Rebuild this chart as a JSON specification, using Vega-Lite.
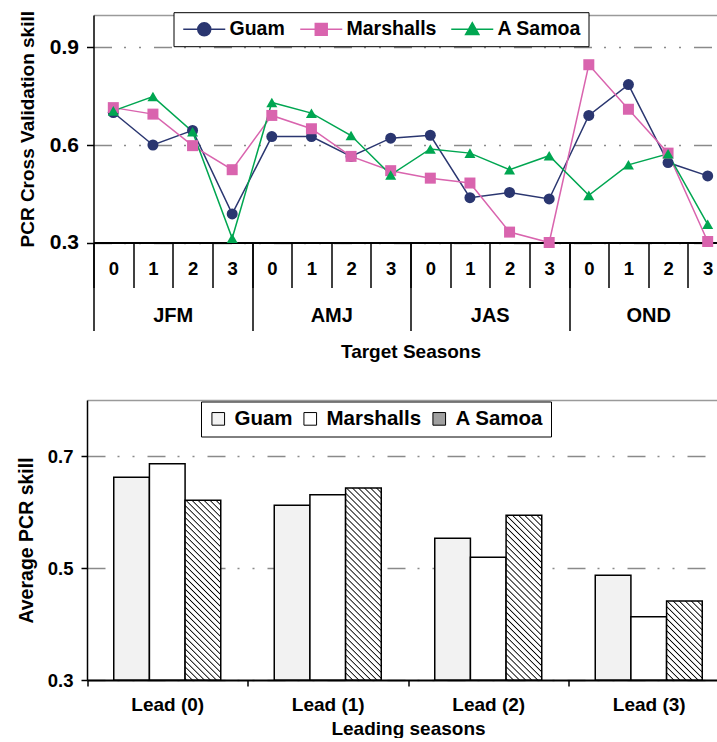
{
"$schema": "https://vega.github.io/schema/vega-lite/v6.json",
"padding": {"left": 15.5, "top": 10, "right": -15.5, "bottom": 0},
"background": "white",
"spacing": 38,
"resolve": {"legend": {"color": "independent", "fill": "independent", "shape": "independent"}},
"config": {
  "font": "Liberation Sans",
  "view": {"stroke": null},
  "axis": {"labelFont": "Liberation Sans", "titleFont": "Liberation Sans", "labelFontWeight": "bold", "titleFontWeight": "bold", "labelColor": "#000", "titleColor": "#000", "tickColor": "#000", "domainColor": "#000", "tickWidth": 1.5, "domainWidth": 1.5, "gridColor": "#8a8a8a", "gridWidth": 1.5, "gridDash": [18, 12, 2, 13, 2, 13]},
  "legend": {"labelFont": "Liberation Sans", "labelFontWeight": "bold", "labelColor": "#000"}
},
"vconcat": [
{
  "width": 634, "height": 227.5,
  "data": {"values": [
    {"site": "Guam", "season": "JFM", "key": "JFM0", "value": 0.70},
    {"site": "Guam", "season": "JFM", "key": "JFM1", "value": 0.60},
    {"site": "Guam", "season": "JFM", "key": "JFM2", "value": 0.645},
    {"site": "Guam", "season": "JFM", "key": "JFM3", "value": 0.388},
    {"site": "Guam", "season": "AMJ", "key": "AMJ0", "value": 0.626},
    {"site": "Guam", "season": "AMJ", "key": "AMJ1", "value": 0.626},
    {"site": "Guam", "season": "AMJ", "key": "AMJ2", "value": 0.565},
    {"site": "Guam", "season": "AMJ", "key": "AMJ3", "value": 0.621},
    {"site": "Guam", "season": "JAS", "key": "JAS0", "value": 0.630},
    {"site": "Guam", "season": "JAS", "key": "JAS1", "value": 0.438},
    {"site": "Guam", "season": "JAS", "key": "JAS2", "value": 0.454},
    {"site": "Guam", "season": "JAS", "key": "JAS3", "value": 0.434},
    {"site": "Guam", "season": "OND", "key": "OND0", "value": 0.691},
    {"site": "Guam", "season": "OND", "key": "OND1", "value": 0.786},
    {"site": "Guam", "season": "OND", "key": "OND2", "value": 0.546},
    {"site": "Guam", "season": "OND", "key": "OND3", "value": 0.505},
    {"site": "Marshalls", "season": "JFM", "key": "JFM0", "value": 0.715},
    {"site": "Marshalls", "season": "JFM", "key": "JFM1", "value": 0.695},
    {"site": "Marshalls", "season": "JFM", "key": "JFM2", "value": 0.598},
    {"site": "Marshalls", "season": "JFM", "key": "JFM3", "value": 0.524},
    {"site": "Marshalls", "season": "AMJ", "key": "AMJ0", "value": 0.691},
    {"site": "Marshalls", "season": "AMJ", "key": "AMJ1", "value": 0.650},
    {"site": "Marshalls", "season": "AMJ", "key": "AMJ2", "value": 0.565},
    {"site": "Marshalls", "season": "AMJ", "key": "AMJ3", "value": 0.521},
    {"site": "Marshalls", "season": "JAS", "key": "JAS0", "value": 0.498},
    {"site": "Marshalls", "season": "JAS", "key": "JAS1", "value": 0.483},
    {"site": "Marshalls", "season": "JAS", "key": "JAS2", "value": 0.332},
    {"site": "Marshalls", "season": "JAS", "key": "JAS3", "value": 0.300},
    {"site": "Marshalls", "season": "OND", "key": "OND0", "value": 0.847},
    {"site": "Marshalls", "season": "OND", "key": "OND1", "value": 0.710},
    {"site": "Marshalls", "season": "OND", "key": "OND2", "value": 0.575},
    {"site": "Marshalls", "season": "OND", "key": "OND3", "value": 0.303},
    {"site": "A Samoa", "season": "JFM", "key": "JFM0", "value": 0.705},
    {"site": "A Samoa", "season": "JFM", "key": "JFM1", "value": 0.749},
    {"site": "A Samoa", "season": "JFM", "key": "JFM2", "value": 0.641},
    {"site": "A Samoa", "season": "JFM", "key": "JFM3", "value": 0.313},
    {"site": "A Samoa", "season": "AMJ", "key": "AMJ0", "value": 0.731},
    {"site": "A Samoa", "season": "AMJ", "key": "AMJ1", "value": 0.698},
    {"site": "A Samoa", "season": "AMJ", "key": "AMJ2", "value": 0.629},
    {"site": "A Samoa", "season": "AMJ", "key": "AMJ3", "value": 0.508},
    {"site": "A Samoa", "season": "JAS", "key": "JAS0", "value": 0.588},
    {"site": "A Samoa", "season": "JAS", "key": "JAS1", "value": 0.575},
    {"site": "A Samoa", "season": "JAS", "key": "JAS2", "value": 0.524},
    {"site": "A Samoa", "season": "JAS", "key": "JAS3", "value": 0.567},
    {"site": "A Samoa", "season": "OND", "key": "OND0", "value": 0.445},
    {"site": "A Samoa", "season": "OND", "key": "OND1", "value": 0.539},
    {"site": "A Samoa", "season": "OND", "key": "OND2", "value": 0.573},
    {"site": "A Samoa", "season": "OND", "key": "OND3", "value": 0.356}
  ]},
  "layer": [
    {
      "layer": [
        {
          "mark": {"type": "line", "strokeWidth": 1.5},
          "encoding": {
            "x": {"field": "key", "type": "nominal", "sort": null, "scale": {"paddingInner": 0, "paddingOuter": 0},
                  "axis": {"orient": "bottom", "title": null, "labelExpr": "slice(datum.label, 3)", "labelAngle": 0, "tickBand": "extent", "tickSize": 45, "labelFontSize": 18.5, "labelPadding": -28, "domainWidth": 2}},
            "y": {"field": "value", "type": "quantitative", "scale": {"domain": [0.3, 1.0], "nice": false, "zero": false},
                  "axis": {"values": [0.3, 0.6, 0.9, 1.0], "format": ".1f", "title": "PCR Cross Validation skill", "titleFontSize": 19, "labelFontSize": 21, "tickSize": 7, "labelPadding": 8, "titlePadding": 12, "grid": true,
                           "labelExpr": "datum.value > 0.95 ? '' : datum.label",
                           "tickOpacity": {"condition": {"test": "datum.value > 0.95", "value": 0}, "value": 1},
                           "gridDash": {"condition": {"test": "datum.value > 0.95", "value": []}, "value": [18, 12, 2, 13, 2, 13]},
                           "gridColor": {"condition": {"test": "datum.value > 0.95", "value": "#9a9a9a"}, "value": "#8a8a8a"}}},
            "color": {"field": "site", "type": "nominal",
                      "scale": {"domain": ["Guam", "Marshalls", "A Samoa"], "range": ["#2a3670", "#d964ae", "#00a651"]},
                      "legend": {"orient": "none", "legendX": 80, "legendY": -2.8, "direction": "horizontal", "title": null,
                                 "strokeColor": "#000", "fillColor": "#fff", "padding": 7,
                                 "labelFontSize": 19.5, "symbolSize": 196, "symbolOffset": 14, "labelOffset": 15.5, "columnPadding": 11, "symbolStrokeWidth": 1.5}}
          }
        },
        {
          "mark": {"type": "point", "filled": true, "opacity": 1, "size": 121},
          "encoding": {
            "x": {"field": "key", "type": "nominal", "sort": null},
            "y": {"field": "value", "type": "quantitative"},
            "color": {"field": "site", "type": "nominal"},
            "shape": {"field": "site", "type": "nominal",
                      "condition": [
                        {"test": "datum.site === 'Guam'", "value": "circle"},
                        {"test": "datum.site === 'Marshalls'", "value": "square"},
                        {"test": "datum.site === 'A Samoa'", "value": "triangle-up"}
                      ],
                      "scale": {"domain": ["Guam", "Marshalls", "A Samoa"], "range": [
                        "M-3,0H3M0.93,0A0.93,0.93,0,1,1,-0.93,0A0.93,0.93,0,1,1,0.93,0Z",
                        "M-3,0H3M-0.85,-0.85H0.85V0.85H-0.85Z",
                        "M-3,0H3M0,-0.95L0.95,0.75H-0.95Z"]},
                      "legend": {"orient": "none", "legendX": 80, "legendY": -2.8, "direction": "horizontal", "title": null,
                                 "strokeColor": "#000", "fillColor": "#fff", "padding": 7,
                                 "labelFontSize": 19.5, "symbolSize": 196, "symbolOffset": 14, "labelOffset": 15.5, "columnPadding": 11, "symbolStrokeWidth": 1.5}}
          }
        }
      ]
    },
    {
      "mark": {"type": "tick", "opacity": 0},
      "encoding": {
        "x": {"field": "season", "type": "nominal", "sort": null, "scale": {"paddingInner": 0, "paddingOuter": 0},
              "axis": {"orient": "bottom", "title": "Target Seasons", "titleFontSize": 19, "titlePadding": 11, "labelAngle": 0, "tickBand": "extent", "tickSize": 88, "labelFontSize": 20, "labelPadding": -25, "domain": false}},
        "y": {"field": "value", "type": "quantitative"}
      }
    }
  ],
  "resolve": {"scale": {"x": "independent"}, "axis": {"x": "independent"}}
},
{
  "width": 636, "height": 280,
  "data": {"values": [
    {"lead": "Lead (0)", "site": "Guam", "value": 0.662},
    {"lead": "Lead (0)", "site": "Marshalls", "value": 0.686},
    {"lead": "Lead (0)", "site": "A Samoa", "value": 0.621},
    {"lead": "Lead (1)", "site": "Guam", "value": 0.612},
    {"lead": "Lead (1)", "site": "Marshalls", "value": 0.631},
    {"lead": "Lead (1)", "site": "A Samoa", "value": 0.643},
    {"lead": "Lead (2)", "site": "Guam", "value": 0.553},
    {"lead": "Lead (2)", "site": "Marshalls", "value": 0.519},
    {"lead": "Lead (2)", "site": "A Samoa", "value": 0.594},
    {"lead": "Lead (3)", "site": "Guam", "value": 0.487},
    {"lead": "Lead (3)", "site": "Marshalls", "value": 0.413},
    {"lead": "Lead (3)", "site": "A Samoa", "value": 0.441}
  ]},
  "mark": {"type": "bar", "stroke": "#000", "strokeWidth": 1.5},
  "encoding": {
    "x": {"field": "lead", "type": "nominal", "sort": null, "scale": {"paddingInner": 0, "paddingOuter": 0, "range": [-6.5, 635.5]},
          "axis": {"title": "Leading seasons", "labelAngle": 0, "tickBand": "extent", "tickSize": 6, "labelFontSize": 19, "labelPadding": 9, "titleFontSize": 19, "titlePadding": 5, "domainWidth": 2}},
    "xOffset": {"field": "site", "type": "nominal", "sort": ["Guam", "Marshalls", "A Samoa"], "scale": {"paddingInner": 0, "paddingOuter": 0.75}},
    "y": {"field": "value", "type": "quantitative", "scale": {"domain": [0.3, 0.8], "nice": false, "zero": false},
          "axis": {"values": [0.3, 0.5, 0.7, 0.8], "format": ".1f", "offset": 6.5, "title": "Average PCR skill", "titleFontSize": 19.5, "labelFontSize": 18.5, "tickSize": 6, "labelPadding": 8, "titlePadding": 11, "grid": true,
                   "labelExpr": "datum.value > 0.75 ? '' : datum.label",
                   "tickOpacity": {"condition": {"test": "datum.value > 0.75", "value": 0}, "value": 1},
                   "gridDash": {"condition": {"test": "datum.value > 0.75", "value": []}, "value": [18, 12, 2, 13, 2, 13]},
                   "gridColor": {"condition": {"test": "datum.value > 0.75", "value": "#9a9a9a"}, "value": "#8a8a8a"}}},
    "y2": {"datum": 0.3},
    "fill": {
      "condition": [
        {"test": "datum.site === 'A Samoa' && datum.lead === 'Lead (0)'",
         "value": {"gradient": "linear", "x1": 0, "y1": 1, "x2": 0.2276, "y2": -0.1525, "stops": [
{"offset":0,"color":"#fff"},{"offset":0.0056,"color":"#000"},{"offset":0.0111,"color":"#fff"},
{"offset":0.0278,"color":"#fff"},{"offset":0.0333,"color":"#000"},{"offset":0.0389,"color":"#fff"},
{"offset":0.0556,"color":"#fff"},{"offset":0.0611,"color":"#000"},{"offset":0.0667,"color":"#fff"},
{"offset":0.0833,"color":"#fff"},{"offset":0.0889,"color":"#000"},{"offset":0.0944,"color":"#fff"},
{"offset":0.1111,"color":"#fff"},{"offset":0.1167,"color":"#000"},{"offset":0.1222,"color":"#fff"},
{"offset":0.1389,"color":"#fff"},{"offset":0.1444,"color":"#000"},{"offset":0.15,"color":"#fff"},
{"offset":0.1667,"color":"#fff"},{"offset":0.1722,"color":"#000"},{"offset":0.1778,"color":"#fff"},
{"offset":0.1944,"color":"#fff"},{"offset":0.2,"color":"#000"},{"offset":0.2056,"color":"#fff"},
{"offset":0.2222,"color":"#fff"},{"offset":0.2278,"color":"#000"},{"offset":0.2333,"color":"#fff"},
{"offset":0.25,"color":"#fff"},{"offset":0.2556,"color":"#000"},{"offset":0.2611,"color":"#fff"},
{"offset":0.2778,"color":"#fff"},{"offset":0.2833,"color":"#000"},{"offset":0.2889,"color":"#fff"},
{"offset":0.3056,"color":"#fff"},{"offset":0.3111,"color":"#000"},{"offset":0.3167,"color":"#fff"},
{"offset":0.3333,"color":"#fff"},{"offset":0.3389,"color":"#000"},{"offset":0.3444,"color":"#fff"},
{"offset":0.3611,"color":"#fff"},{"offset":0.3667,"color":"#000"},{"offset":0.3722,"color":"#fff"},
{"offset":0.3889,"color":"#fff"},{"offset":0.3944,"color":"#000"},{"offset":0.4,"color":"#fff"},
{"offset":0.4167,"color":"#fff"},{"offset":0.4222,"color":"#000"},{"offset":0.4278,"color":"#fff"},
{"offset":0.4444,"color":"#fff"},{"offset":0.45,"color":"#000"},{"offset":0.4556,"color":"#fff"},
{"offset":0.4722,"color":"#fff"},{"offset":0.4778,"color":"#000"},{"offset":0.4833,"color":"#fff"},
{"offset":0.5,"color":"#fff"},{"offset":0.5056,"color":"#000"},{"offset":0.5111,"color":"#fff"},
{"offset":0.5278,"color":"#fff"},{"offset":0.5333,"color":"#000"},{"offset":0.5389,"color":"#fff"},
{"offset":0.5556,"color":"#fff"},{"offset":0.5611,"color":"#000"},{"offset":0.5667,"color":"#fff"},
{"offset":0.5833,"color":"#fff"},{"offset":0.5889,"color":"#000"},{"offset":0.5944,"color":"#fff"},
{"offset":0.6111,"color":"#fff"},{"offset":0.6167,"color":"#000"},{"offset":0.6222,"color":"#fff"},
{"offset":0.6389,"color":"#fff"},{"offset":0.6444,"color":"#000"},{"offset":0.65,"color":"#fff"},
{"offset":0.6667,"color":"#fff"},{"offset":0.6722,"color":"#000"},{"offset":0.6778,"color":"#fff"},
{"offset":0.6944,"color":"#fff"},{"offset":0.7,"color":"#000"},{"offset":0.7056,"color":"#fff"},
{"offset":0.7222,"color":"#fff"},{"offset":0.7278,"color":"#000"},{"offset":0.7333,"color":"#fff"},
{"offset":0.75,"color":"#fff"},{"offset":0.7556,"color":"#000"},{"offset":0.7611,"color":"#fff"},
{"offset":0.7778,"color":"#fff"},{"offset":0.7833,"color":"#000"},{"offset":0.7889,"color":"#fff"},
{"offset":0.8056,"color":"#fff"},{"offset":0.8111,"color":"#000"},{"offset":0.8167,"color":"#fff"},
{"offset":0.8333,"color":"#fff"},{"offset":0.8389,"color":"#000"},{"offset":0.8444,"color":"#fff"},
{"offset":0.8611,"color":"#fff"},{"offset":0.8667,"color":"#000"},{"offset":0.8722,"color":"#fff"},
{"offset":0.8889,"color":"#fff"},{"offset":0.8944,"color":"#000"},{"offset":0.9,"color":"#fff"},
{"offset":0.9167,"color":"#fff"},{"offset":0.9222,"color":"#000"},{"offset":0.9278,"color":"#fff"},
{"offset":0.9444,"color":"#fff"},{"offset":0.95,"color":"#000"},{"offset":0.9556,"color":"#fff"},
{"offset":0.9722,"color":"#fff"},{"offset":0.9778,"color":"#000"},{"offset":0.9833,"color":"#fff"},
{"offset":1,"color":"#fff"}]}},
        {"test": "datum.site === 'A Samoa' && datum.lead === 'Lead (1)'",
         "value": {"gradient": "linear", "x1": 0, "y1": 1, "x2": 0.2117, "y2": -0.1457, "stops": [
{"offset":0,"color":"#fff"},{"offset":0.0053,"color":"#000"},{"offset":0.0105,"color":"#fff"},
{"offset":0.0263,"color":"#fff"},{"offset":0.0316,"color":"#000"},{"offset":0.0368,"color":"#fff"},
{"offset":0.0526,"color":"#fff"},{"offset":0.0579,"color":"#000"},{"offset":0.0632,"color":"#fff"},
{"offset":0.0789,"color":"#fff"},{"offset":0.0842,"color":"#000"},{"offset":0.0895,"color":"#fff"},
{"offset":0.1053,"color":"#fff"},{"offset":0.1105,"color":"#000"},{"offset":0.1158,"color":"#fff"},
{"offset":0.1316,"color":"#fff"},{"offset":0.1368,"color":"#000"},{"offset":0.1421,"color":"#fff"},
{"offset":0.1579,"color":"#fff"},{"offset":0.1632,"color":"#000"},{"offset":0.1684,"color":"#fff"},
{"offset":0.1842,"color":"#fff"},{"offset":0.1895,"color":"#000"},{"offset":0.1947,"color":"#fff"},
{"offset":0.2105,"color":"#fff"},{"offset":0.2158,"color":"#000"},{"offset":0.2211,"color":"#fff"},
{"offset":0.2368,"color":"#fff"},{"offset":0.2421,"color":"#000"},{"offset":0.2474,"color":"#fff"},
{"offset":0.2632,"color":"#fff"},{"offset":0.2684,"color":"#000"},{"offset":0.2737,"color":"#fff"},
{"offset":0.2895,"color":"#fff"},{"offset":0.2947,"color":"#000"},{"offset":0.3,"color":"#fff"},
{"offset":0.3158,"color":"#fff"},{"offset":0.3211,"color":"#000"},{"offset":0.3263,"color":"#fff"},
{"offset":0.3421,"color":"#fff"},{"offset":0.3474,"color":"#000"},{"offset":0.3526,"color":"#fff"},
{"offset":0.3684,"color":"#fff"},{"offset":0.3737,"color":"#000"},{"offset":0.3789,"color":"#fff"},
{"offset":0.3947,"color":"#fff"},{"offset":0.4,"color":"#000"},{"offset":0.4053,"color":"#fff"},
{"offset":0.4211,"color":"#fff"},{"offset":0.4263,"color":"#000"},{"offset":0.4316,"color":"#fff"},
{"offset":0.4474,"color":"#fff"},{"offset":0.4526,"color":"#000"},{"offset":0.4579,"color":"#fff"},
{"offset":0.4737,"color":"#fff"},{"offset":0.4789,"color":"#000"},{"offset":0.4842,"color":"#fff"},
{"offset":0.5,"color":"#fff"},{"offset":0.5053,"color":"#000"},{"offset":0.5105,"color":"#fff"},
{"offset":0.5263,"color":"#fff"},{"offset":0.5316,"color":"#000"},{"offset":0.5368,"color":"#fff"},
{"offset":0.5526,"color":"#fff"},{"offset":0.5579,"color":"#000"},{"offset":0.5632,"color":"#fff"},
{"offset":0.5789,"color":"#fff"},{"offset":0.5842,"color":"#000"},{"offset":0.5895,"color":"#fff"},
{"offset":0.6053,"color":"#fff"},{"offset":0.6105,"color":"#000"},{"offset":0.6158,"color":"#fff"},
{"offset":0.6316,"color":"#fff"},{"offset":0.6368,"color":"#000"},{"offset":0.6421,"color":"#fff"},
{"offset":0.6579,"color":"#fff"},{"offset":0.6632,"color":"#000"},{"offset":0.6684,"color":"#fff"},
{"offset":0.6842,"color":"#fff"},{"offset":0.6895,"color":"#000"},{"offset":0.6947,"color":"#fff"},
{"offset":0.7105,"color":"#fff"},{"offset":0.7158,"color":"#000"},{"offset":0.7211,"color":"#fff"},
{"offset":0.7368,"color":"#fff"},{"offset":0.7421,"color":"#000"},{"offset":0.7474,"color":"#fff"},
{"offset":0.7632,"color":"#fff"},{"offset":0.7684,"color":"#000"},{"offset":0.7737,"color":"#fff"},
{"offset":0.7895,"color":"#fff"},{"offset":0.7947,"color":"#000"},{"offset":0.8,"color":"#fff"},
{"offset":0.8158,"color":"#fff"},{"offset":0.8211,"color":"#000"},{"offset":0.8263,"color":"#fff"},
{"offset":0.8421,"color":"#fff"},{"offset":0.8474,"color":"#000"},{"offset":0.8526,"color":"#fff"},
{"offset":0.8684,"color":"#fff"},{"offset":0.8737,"color":"#000"},{"offset":0.8789,"color":"#fff"},
{"offset":0.8947,"color":"#fff"},{"offset":0.9,"color":"#000"},{"offset":0.9053,"color":"#fff"},
{"offset":0.9211,"color":"#fff"},{"offset":0.9263,"color":"#000"},{"offset":0.9316,"color":"#fff"},
{"offset":0.9474,"color":"#fff"},{"offset":0.9526,"color":"#000"},{"offset":0.9579,"color":"#fff"},
{"offset":0.9737,"color":"#fff"},{"offset":0.9789,"color":"#000"},{"offset":0.9842,"color":"#fff"},
{"offset":1,"color":"#fff"}]}},
        {"test": "datum.site === 'A Samoa' && datum.lead === 'Lead (2)'",
         "value": {"gradient": "linear", "x1": 0, "y1": 1, "x2": 0.2505, "y2": -0.1616, "stops": [
{"offset":0,"color":"#fff"},{"offset":0.0061,"color":"#000"},{"offset":0.0121,"color":"#fff"},
{"offset":0.0303,"color":"#fff"},{"offset":0.0364,"color":"#000"},{"offset":0.0424,"color":"#fff"},
{"offset":0.0606,"color":"#fff"},{"offset":0.0667,"color":"#000"},{"offset":0.0727,"color":"#fff"},
{"offset":0.0909,"color":"#fff"},{"offset":0.097,"color":"#000"},{"offset":0.103,"color":"#fff"},
{"offset":0.1212,"color":"#fff"},{"offset":0.1273,"color":"#000"},{"offset":0.1333,"color":"#fff"},
{"offset":0.1515,"color":"#fff"},{"offset":0.1576,"color":"#000"},{"offset":0.1636,"color":"#fff"},
{"offset":0.1818,"color":"#fff"},{"offset":0.1879,"color":"#000"},{"offset":0.1939,"color":"#fff"},
{"offset":0.2121,"color":"#fff"},{"offset":0.2182,"color":"#000"},{"offset":0.2242,"color":"#fff"},
{"offset":0.2424,"color":"#fff"},{"offset":0.2485,"color":"#000"},{"offset":0.2545,"color":"#fff"},
{"offset":0.2727,"color":"#fff"},{"offset":0.2788,"color":"#000"},{"offset":0.2848,"color":"#fff"},
{"offset":0.303,"color":"#fff"},{"offset":0.3091,"color":"#000"},{"offset":0.3152,"color":"#fff"},
{"offset":0.3333,"color":"#fff"},{"offset":0.3394,"color":"#000"},{"offset":0.3455,"color":"#fff"},
{"offset":0.3636,"color":"#fff"},{"offset":0.3697,"color":"#000"},{"offset":0.3758,"color":"#fff"},
{"offset":0.3939,"color":"#fff"},{"offset":0.4,"color":"#000"},{"offset":0.4061,"color":"#fff"},
{"offset":0.4242,"color":"#fff"},{"offset":0.4303,"color":"#000"},{"offset":0.4364,"color":"#fff"},
{"offset":0.4545,"color":"#fff"},{"offset":0.4606,"color":"#000"},{"offset":0.4667,"color":"#fff"},
{"offset":0.4848,"color":"#fff"},{"offset":0.4909,"color":"#000"},{"offset":0.497,"color":"#fff"},
{"offset":0.5152,"color":"#fff"},{"offset":0.5212,"color":"#000"},{"offset":0.5273,"color":"#fff"},
{"offset":0.5455,"color":"#fff"},{"offset":0.5515,"color":"#000"},{"offset":0.5576,"color":"#fff"},
{"offset":0.5758,"color":"#fff"},{"offset":0.5818,"color":"#000"},{"offset":0.5879,"color":"#fff"},
{"offset":0.6061,"color":"#fff"},{"offset":0.6121,"color":"#000"},{"offset":0.6182,"color":"#fff"},
{"offset":0.6364,"color":"#fff"},{"offset":0.6424,"color":"#000"},{"offset":0.6485,"color":"#fff"},
{"offset":0.6667,"color":"#fff"},{"offset":0.6727,"color":"#000"},{"offset":0.6788,"color":"#fff"},
{"offset":0.697,"color":"#fff"},{"offset":0.703,"color":"#000"},{"offset":0.7091,"color":"#fff"},
{"offset":0.7273,"color":"#fff"},{"offset":0.7333,"color":"#000"},{"offset":0.7394,"color":"#fff"},
{"offset":0.7576,"color":"#fff"},{"offset":0.7636,"color":"#000"},{"offset":0.7697,"color":"#fff"},
{"offset":0.7879,"color":"#fff"},{"offset":0.7939,"color":"#000"},{"offset":0.8,"color":"#fff"},
{"offset":0.8182,"color":"#fff"},{"offset":0.8242,"color":"#000"},{"offset":0.8303,"color":"#fff"},
{"offset":0.8485,"color":"#fff"},{"offset":0.8545,"color":"#000"},{"offset":0.8606,"color":"#fff"},
{"offset":0.8788,"color":"#fff"},{"offset":0.8848,"color":"#000"},{"offset":0.8909,"color":"#fff"},
{"offset":0.9091,"color":"#fff"},{"offset":0.9152,"color":"#000"},{"offset":0.9212,"color":"#fff"},
{"offset":0.9394,"color":"#fff"},{"offset":0.9455,"color":"#000"},{"offset":0.9515,"color":"#fff"},
{"offset":0.9697,"color":"#fff"},{"offset":0.9758,"color":"#000"},{"offset":0.9818,"color":"#fff"},
{"offset":1,"color":"#fff"}]}},
        {"test": "datum.site === 'A Samoa' && datum.lead === 'Lead (3)'",
         "value": {"gradient": "linear", "x1": 0, "y1": 1, "x2": 0.5419, "y2": -0.2059, "stops": [
{"offset":0,"color":"#fff"},{"offset":0.0105,"color":"#000"},{"offset":0.0211,"color":"#fff"},
{"offset":0.0526,"color":"#fff"},{"offset":0.0632,"color":"#000"},{"offset":0.0737,"color":"#fff"},
{"offset":0.1053,"color":"#fff"},{"offset":0.1158,"color":"#000"},{"offset":0.1263,"color":"#fff"},
{"offset":0.1579,"color":"#fff"},{"offset":0.1684,"color":"#000"},{"offset":0.1789,"color":"#fff"},
{"offset":0.2105,"color":"#fff"},{"offset":0.2211,"color":"#000"},{"offset":0.2316,"color":"#fff"},
{"offset":0.2632,"color":"#fff"},{"offset":0.2737,"color":"#000"},{"offset":0.2842,"color":"#fff"},
{"offset":0.3158,"color":"#fff"},{"offset":0.3263,"color":"#000"},{"offset":0.3368,"color":"#fff"},
{"offset":0.3684,"color":"#fff"},{"offset":0.3789,"color":"#000"},{"offset":0.3895,"color":"#fff"},
{"offset":0.4211,"color":"#fff"},{"offset":0.4316,"color":"#000"},{"offset":0.4421,"color":"#fff"},
{"offset":0.4737,"color":"#fff"},{"offset":0.4842,"color":"#000"},{"offset":0.4947,"color":"#fff"},
{"offset":0.5263,"color":"#fff"},{"offset":0.5368,"color":"#000"},{"offset":0.5474,"color":"#fff"},
{"offset":0.5789,"color":"#fff"},{"offset":0.5895,"color":"#000"},{"offset":0.6,"color":"#fff"},
{"offset":0.6316,"color":"#fff"},{"offset":0.6421,"color":"#000"},{"offset":0.6526,"color":"#fff"},
{"offset":0.6842,"color":"#fff"},{"offset":0.6947,"color":"#000"},{"offset":0.7053,"color":"#fff"},
{"offset":0.7368,"color":"#fff"},{"offset":0.7474,"color":"#000"},{"offset":0.7579,"color":"#fff"},
{"offset":0.7895,"color":"#fff"},{"offset":0.8,"color":"#000"},{"offset":0.8105,"color":"#fff"},
{"offset":0.8421,"color":"#fff"},{"offset":0.8526,"color":"#000"},{"offset":0.8632,"color":"#fff"},
{"offset":0.8947,"color":"#fff"},{"offset":0.9053,"color":"#000"},{"offset":0.9158,"color":"#fff"},
{"offset":0.9474,"color":"#fff"},{"offset":0.9579,"color":"#000"},{"offset":0.9684,"color":"#fff"},
{"offset":1,"color":"#fff"}]}}
      ],
      "field": "site", "type": "nominal",
      "scale": {"domain": ["Guam", "Marshalls", "A Samoa"], "range": ["#f2f2f2", "#ffffff", "#a0a0a0"]},
      "legend": {"orient": "none", "legendX": 107.5, "legendY": 1.5, "direction": "horizontal", "title": null,
                 "strokeColor": "#000", "fillColor": "#fff", "padding": 7,
                 "labelFontSize": 20.5, "symbolType": "square", "symbolSize": 160, "symbolStrokeColor": "#000", "symbolStrokeWidth": 1,
                 "labelOffset": 6, "columnPadding": 7}
    }
  }
}
]
}
